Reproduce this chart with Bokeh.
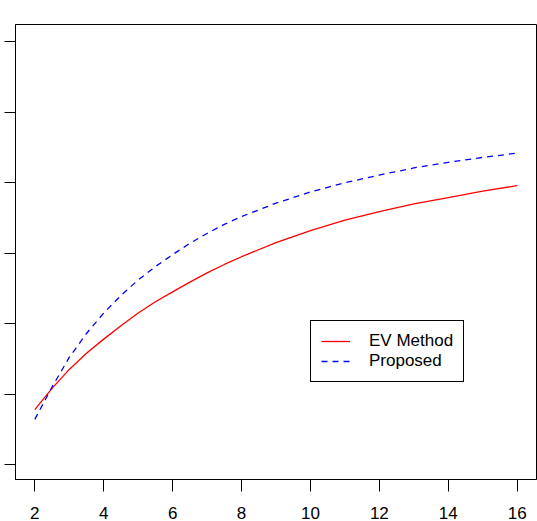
from bokeh.plotting import figure
from bokeh.models import Range1d, FixedTicker, Legend, LegendItem
from bokeh.embed import file_html
from bokeh.resources import INLINE

# data (y in axis-tick units; y tick labels are cropped off in the reference)
x_vals = [2, 2.5, 3, 3.5, 4, 4.5, 5, 5.5, 6, 6.5, 7, 7.5, 8, 9, 10, 11, 12, 13, 14, 15, 16]
ev_method = [0.78, 1.08, 1.35, 1.58, 1.78, 1.97, 2.15, 2.31, 2.45, 2.59, 2.72, 2.84, 2.95,
             3.15, 3.32, 3.47, 3.59, 3.70, 3.79, 3.88, 3.96]
proposed = [0.64, 1.10, 1.52, 1.86, 2.15, 2.40, 2.62, 2.81, 2.98, 3.14, 3.28, 3.41, 3.52,
            3.71, 3.87, 4.00, 4.11, 4.21, 4.29, 4.36, 4.42]
x_ticks = [2, 4, 6, 8, 10, 12, 14, 16]
y_ticks = [0, 1, 2, 3, 4, 5, 6]
series_names = ["EV Method", "Proposed"]

FONT = "Liberation Sans"

p = figure(width=537, height=521, output_backend="svg", toolbar_location=None,
           x_range=Range1d(1.44, 16.56), y_range=Range1d(-0.213, 6.247),
           min_border_left=15, min_border_right=1, min_border_top=24,
           min_border_bottom=42)
p.background_fill_color = "white"
p.border_fill_color = "white"
p.outline_line_color = "black"
p.outline_line_width = 1
p.xgrid.visible = False
p.ygrid.visible = False

p.xaxis.ticker = FixedTicker(ticks=x_ticks)
p.xaxis.major_tick_out = 12
p.xaxis.major_tick_in = 0
p.xaxis.minor_tick_line_color = None
p.xaxis.major_label_standoff = 15
p.xaxis.major_label_text_font = FONT
p.xaxis.major_label_text_font_size = "17px"
p.xaxis.major_label_text_color = "black"
p.xaxis.axis_line_color = "black"
p.xaxis.major_tick_line_color = "black"

p.yaxis.ticker = FixedTicker(ticks=y_ticks)
p.yaxis.major_tick_out = 11
p.yaxis.major_tick_in = 0
p.yaxis.minor_tick_line_color = None
p.yaxis.major_label_standoff = 0
p.yaxis.major_label_text_font_size = "0px"
p.yaxis.major_label_text_alpha = 0
p.yaxis.axis_line_color = "black"
p.yaxis.major_tick_line_color = "black"

r1 = p.line(x_vals, ev_method, line_color="#FF0000", line_width=1.3)
r2 = p.line(x_vals, proposed, line_color="#0000FF", line_width=1.3,
            line_dash="6 5")

legend = Legend(items=[LegendItem(label=series_names[0], renderers=[r1]),
                       LegendItem(label=series_names[1], renderers=[r2])],
                location=(295, 97), padding=10, spacing=0,
                glyph_width=29, glyph_height=20, label_height=20,
                label_standoff=19, label_text_font=FONT,
                label_text_font_size="17px", label_text_color="black",
                border_line_color="black", border_line_width=1,
                border_line_alpha=1,
                background_fill_color="white", background_fill_alpha=1,
                margin=0)
p.add_layout(legend, "center")

open("out.html", "w").write(file_html(p, INLINE))
